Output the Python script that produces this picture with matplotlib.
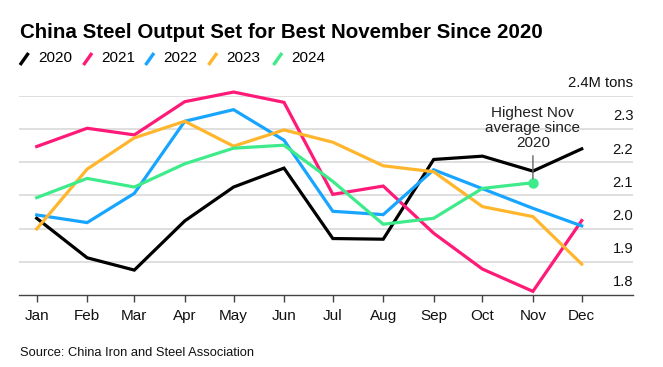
import matplotlib
matplotlib.use("Agg")
import matplotlib.pyplot as plt
import numpy as np
import pandas as pd
from matplotlib.lines import Line2D

plt.rcParams['font.family'] = ['Liberation Sans', 'DejaVu Sans']

months = ["Jan", "Feb", "Mar", "Apr", "May", "Jun", "Jul", "Aug", "Sep", "Oct", "Nov", "Dec"]
years = ["2020", "2021", "2022", "2023", "2024"]

v2020 = [2.031, 1.912, 1.875, 2.023, 2.125, 2.182, 1.970, 1.968, 2.208, 2.218, 2.173, 2.240]
v2021 = [2.247, 2.302, 2.282, 2.382, 2.411, 2.380, 2.103, 2.128, 1.986, 1.878, 1.811, 2.024]
v2022 = [2.041, 2.018, 2.106, 2.323, 2.358, 2.266, 2.052, 2.042, 2.177, 2.120, 2.061, 2.008]
v2023 = [1.999, 2.179, 2.273, 2.323, 2.248, 2.297, 2.260, 2.189, 2.171, 2.066, 2.036, 1.893]
v2024 = [2.093, 2.151, 2.125, 2.195, 2.242, 2.251, 2.142, 2.013, 2.031, 2.121, 2.138]

y_ticks = [1.8, 1.9, 2.0, 2.1, 2.2, 2.3, 2.4]
y_labels = ["1.8", "1.9", "2.0", "2.1", "2.2", "2.3", "2.4M tons"]

colors = ["#000000", "#FF1A78", "#18A5FF", "#FFB62C", "#3EEB8A"]
series = [v2020, v2021, v2022, v2023, v2024]

# month positions on a day scale (monthly data points at month starts)
dates = pd.date_range("2020-01-01", periods=12, freq="MS")
xpos = np.array([(d - dates[0]).days for d in dates], dtype=float)

fig = plt.figure(figsize=(6.63, 3.67), dpi=100)
ax = fig.add_axes([19.3 / 663, (367 - 295) / 367, (633.3 - 19.3) / 663, (295 - 95.7) / 367])

for v in y_ticks[1:]:
    ax.axhline(v, color="#d9d9d9", lw=1.2, zorder=0)

for vals, c in zip(series, colors):
    ax.plot(xpos[:len(vals)], vals, color=c, lw=2.3, solid_joinstyle="miter", zorder=3, clip_on=False)

ax.set_xlim(-10.7, 366.7)
ax.set_ylim(1.8, 2.4)
for s in ["left", "right", "top"]:
    ax.spines[s].set_visible(False)
ax.spines["bottom"].set_color("#444444")
ax.spines["bottom"].set_linewidth(1.0)
ax.set_yticks([])
ax.set_xticks(xpos)
ax.set_xticklabels(months, fontsize=11, color="#111111")
ax.tick_params(axis="x", length=5, width=1, color="#444444", pad=5)

# right-side y labels above gridlines
for v, lab in zip(y_ticks, y_labels):
    ax.annotate(lab, xy=(1.0, v), xycoords=ax.get_yaxis_transform(),
                xytext=(0, 4), textcoords="offset points",
                ha="right", va="bottom", fontsize=10.6, color="#111111")

# annotation for Nov 2024
nov_x = xpos[10]
nov_v = v2024[10]
ax.plot([nov_x], [nov_v], "o", color=colors[4], ms=6.5, zorder=5)
ax.annotate("Highest Nov\naverage since\n2020", xy=(nov_x, nov_v), xytext=(0, 39.5),
            textcoords="offset points", ha="center", va="center", fontsize=11,
            color="#222222", linespacing=1.12,
            arrowprops=dict(arrowstyle="-", color="#666666", lw=1, shrinkA=2, shrinkB=3),
            zorder=6)

# title
fig.text(20 / 663, 1 - 33 / 367, "China Steel Output Set for Best November Since 2020",
         fontsize=14.8, fontweight="bold", ha="left", va="center", color="#000000")

# legend
leg_slash_x = [20, 83.5, 145.5, 208.5, 273.5]
leg_text_x = [38, 101.5, 163.5, 226.5, 291]
for sx, tx, c, y in zip(leg_slash_x, leg_text_x, colors, years):
    fig.add_artist(Line2D([sx / 663, (sx + 8.5) / 663], [1 - 65 / 367, 1 - 53 / 367],
                          color=c, lw=2.4, transform=fig.transFigure, solid_capstyle="butt"))
    fig.text(tx / 663, 1 - 58.5 / 367, y, fontsize=11, ha="left", va="center", color="#000000")

fig.text(20 / 663, 1 - 352.5 / 367, "Source: China Iron and Steel Association",
         fontsize=9.3, ha="left", va="center", color="#111111")

fig.savefig("out.png", dpi=100)
